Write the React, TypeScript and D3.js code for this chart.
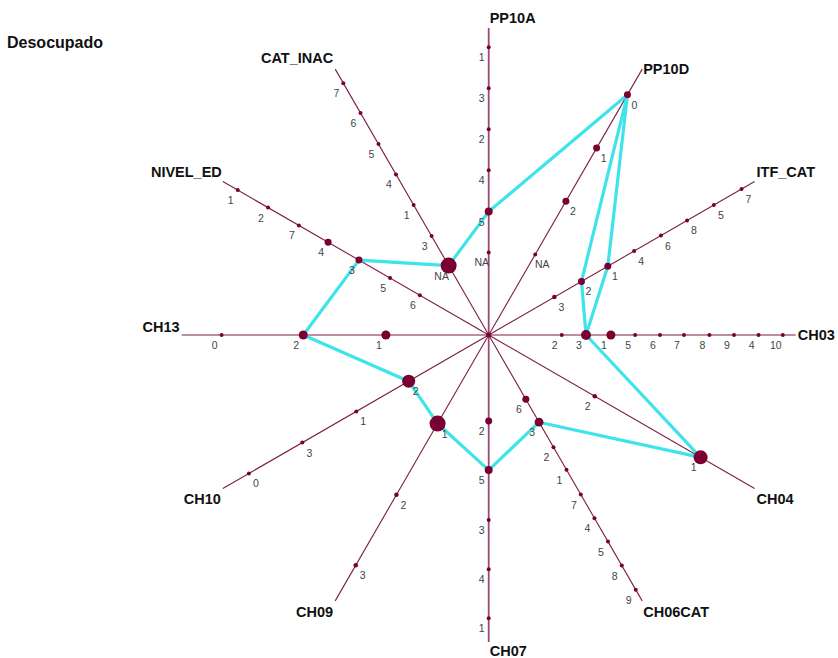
import React from "react";
import * as d3 from "d3";

// ---- data ----
const title = "Desocupado";
const axisNames = ["PP10A", "PP10D", "ITF_CAT", "CH03", "CH04", "CH06CAT", "CH07", "CH09", "CH10", "CH13", "NIVEL_ED", "CAT_INAC"];

// categories per axis, ordered from the centre outwards
const catPP10A = ["NA", "5", "4", "2", "3", "1"];
const catPP10D = ["NA", "2", "1", "0"];
const catITF = ["3", "2", "1", "4", "6", "8", "5", "7"];
const catCH03 = ["2", "3", "1", "5", "6", "7", "8", "9", "4", "10"];
const catCH04 = ["2", "1"];
const catCH06 = ["6", "3", "2", "1", "7", "4", "5", "8", "9"];
const catCH07 = ["2", "5", "3", "4", "1"];
const catCH09 = ["1", "2", "3"];
const catCH10 = ["2", "1", "3", "0"];
const catCH13 = ["1", "2", "0"];
const catNIVEL = ["6", "5", "3", "4", "7", "2", "1"];
const catINAC = ["NA", "3", "1", "4", "5", "6", "7"];

// category scores (percent of axis length)
const scPP10A = [26.9, 40.2, 53.7, 67.0, 80.4, 93.7];
const scPP10D = [30.3, 50.3, 70.3, 90.4];
const scITF = [24.7, 34.9, 44.8, 54.7, 64.8, 74.6, 84.7, 95.1];
const scCH03 = [23.8, 31.7, 39.8, 47.7, 55.8, 63.6, 71.9, 79.9, 87.9, 95.8];
const scCH04 = [39.9, 79.7];
const scCH06 = [24.2, 32.8, 42.2, 50.7, 60.0, 68.9, 77.7, 86.7, 95.8];
const scCH07 = [28.0, 44.0, 60.3, 76.3, 92.3];
const scCH09 = [33.3, 60.1, 86.6];
const scCH10 = [30.1, 49.8, 70.1, 90.2];
const scCH13 = [33.5, 60.4, 87.0];
const scNIVEL = [25.9, 37.1, 48.8, 60.4, 71.4, 83.0, 94.4];
const scINAC = [26.1, 37.2, 48.9, 60.4, 71.8, 83.5, 94.7];

// category weights (marker area)
const wPP10A = [6, 25, 6, 6, 6, 6];
const wPP10D = [6, 19, 19, 19];
const wITF = [8, 19, 19, 6, 6, 6, 6, 6];
const wCH03 = [6, 39, 32, 6, 6, 6, 6, 6, 6, 6];
const wCH04 = [8, 77];
const wCH06 = [19, 30, 6, 6, 6, 6, 6, 6, 6];
const wCH07 = [19, 25, 6, 6, 6];
const wCH09 = [100, 8, 8];
const wCH10 = [66, 6, 6, 6];
const wCH13 = [32, 32, 6];
const wNIVEL = [6, 6, 19, 19, 6, 6, 6];
const wINAC = [100, 6, 6, 6, 6, 6, 6];

const axisCats = [catPP10A, catPP10D, catITF, catCH03, catCH04, catCH06, catCH07, catCH09, catCH10, catCH13, catNIVEL, catINAC];
const axisScores = [scPP10A, scPP10D, scITF, scCH03, scCH04, scCH06, scCH07, scCH09, scCH10, scCH13, scNIVEL, scINAC];
const axisWeights = [wPP10A, wPP10D, wITF, wCH03, wCH04, wCH06, wCH07, wCH09, wCH10, wCH13, wNIVEL, wINAC];

// profile (axis, category)
const profileAxes = ["PP10A", "PP10D", "ITF_CAT", "CH03", "CH04", "CH06CAT", "CH07", "CH09", "CH10", "CH13", "NIVEL_ED", "CAT_INAC", "PP10A"];
const profileCats = ["5", "0", "1", "3", "1", "3", "5", "1", "2", "2", "3", "NA", "5"];
const branchAxes = ["PP10D", "ITF_CAT", "CH03"];
const branchCats = ["0", "2", "3"];

// label placement per axis (anchor, dx, dy) - style
const nameStyle: [string, number, number][] = [
  ["start", 1, -5], ["start", 1, 5], ["start", 2, -5], ["start", 2, 5],
  ["start", 2, 15], ["start", 1, 16], ["start", 1, 14], ["end", -2, 16],
  ["end", -2, 15], ["end", -2, -3], ["end", -1, -5], ["end", -2, -6],
];

export default function App() {
  const W = 838, H = 658;
  const cx = 488.7, cy = 335, R = 307;
  const rScale = d3.scaleLinear().domain([0, 100]).range([0, R]);
  const aScale = d3.scaleLinear().domain([0, axisNames.length]).range([0, 2 * Math.PI]);
  const sizeScale = d3.scaleSqrt().domain([0, 100]).range([0, 8]);

  const pos = (ai: number, score: number): [number, number] => {
    const a = aScale(ai);
    const r = rScale(score);
    return [cx + r * Math.sin(a), cy - r * Math.cos(a)];
  };
  const catPos = (axis: string, cat: string): [number, number] => {
    const ai = axisNames.indexOf(axis);
    const ci = axisCats[ai].indexOf(cat);
    return pos(ai, axisScores[ai][ci]);
  };

  const line = d3.line();
  const mainPath = line(profileAxes.map((a, i) => catPos(a, profileCats[i]))) || "";
  const branchPath = line(branchAxes.map((a, i) => catPos(a, branchCats[i]))) || "";

  const axisColor = "#7d1f45";
  const dotColor = "#7a0032";
  const font = "'Liberation Sans', Arial, sans-serif";

  return (
    <svg width={W} height={H} style={{ position: "absolute", left: 0, top: 0, background: "#fff" }} fontFamily={font}>
      <rect width={W} height={H} fill="#fff" />
      <text x={7} y={48} fontSize={16} fontWeight="bold" fill="#111">{title}</text>
      {axisNames.map((name, ai) => {
        const [ex, ey] = pos(ai, 100);
        const vertical = ai === 0 || ai === 6;
        const [anchor, dx, dy] = nameStyle[ai];
        return (
          <g key={name}>
            <line x1={cx} y1={cy} x2={ex} y2={ey} stroke={vertical ? "#9a4a72" : axisColor}
              strokeWidth={vertical ? 1.8 : 1.1} />
            <text x={ex + dx} y={ey + dy} textAnchor={anchor} fontSize={14.5} fontWeight="bold" fill="#111">{name}</text>
          </g>
        );
      })}
      <path d={mainPath} fill="none" stroke="#3fe3ea" strokeWidth={3.2} strokeLinejoin="round" />
      <path d={branchPath} fill="none" stroke="#3fe3ea" strokeWidth={3.2} strokeLinejoin="round" />
      {axisNames.map((name, ai) => {
        const a = aScale(ai);
        const s = Math.sin(a) * Math.cos(a) > 0.01 ? 1 : -1;
        return (
          <g key={name + "-cats"}>
            {axisCats[ai].map((cat, ci) => {
              const [x, y] = pos(ai, axisScores[ai][ci]);
              const rr = Math.max(2, sizeScale(axisWeights[ai][ci]));
              return (
                <g key={cat}>
                  <circle cx={x} cy={y} r={rr} fill={dotColor} />
                  <text x={x + s * 7} y={y + 14} textAnchor="middle" fontSize={10.5} fill="#444">{cat}</text>
                </g>
              );
            })}
          </g>
        );
      })}
      <circle cx={cx} cy={cy} r={2.5} fill={dotColor} />
    </svg>
  );
}
